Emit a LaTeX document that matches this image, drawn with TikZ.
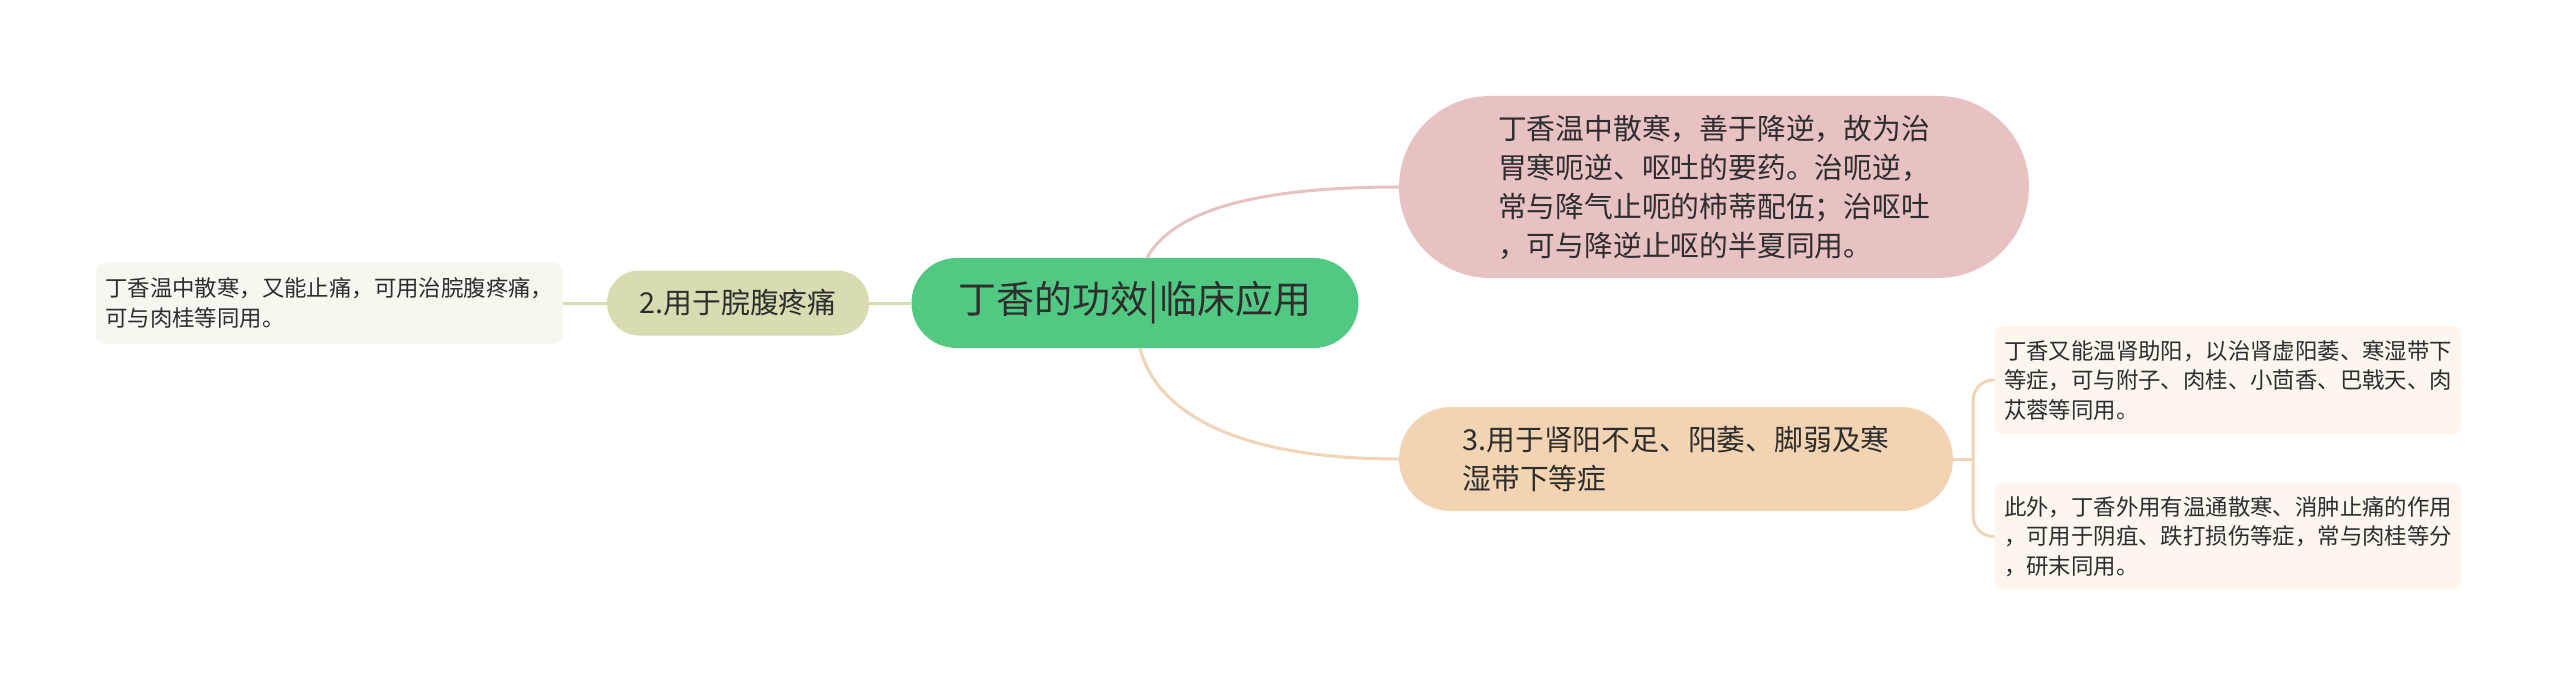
\documentclass[tikz,border=0pt]{standalone}
\usepackage{fontspec}
\newfontfamily\cjk{Noto Sans CJK SC}
\usepackage{tikz}
\usetikzlibrary{positioning}

\definecolor{rootgreen}{HTML}{52C983}
\definecolor{pinkfill}{HTML}{E8C2C2}
\definecolor{pinkline}{HTML}{E6C3C3}
\definecolor{peachfill}{HTML}{F2D4B2}
\definecolor{peachline}{HTML}{EFD4B6}
\definecolor{khakifill}{HTML}{D8DCB0}
\definecolor{leafgreen}{HTML}{F7F7EF}
\definecolor{leafpeach}{HTML}{FDF6EE}
\definecolor{txtgray}{HTML}{2E2E2E}

\tikzset{
    box/.style={align=left, text=txtgray, inner sep=0pt},
    rootbox/.style={box, fill=rootgreen, rounded corners=45pt, minimum width=447pt, minimum height=90pt, font=\cjk\fontsize{38}{46}\selectfont},
    subbox/.style={box, rounded corners=#1, font=\cjk\fontsize{28.8}{39}\selectfont},
    leafbox/.style={box, rounded corners=9pt, minimum width=467pt, font=\cjk\fontsize{22.4}{29.5}\selectfont},
    link/.style={line width=3pt}
}

\begin{document}
\begin{tikzpicture}[x=1pt, y=-1pt]
    \useasboundingbox (0,0) rectangle (2560,687);

    \node[rootbox] (root) at (1135,303) {丁香的功效|临床应用};

    \node[subbox=32pt, fill=khakifill, minimum width=262pt, minimum height=65pt, left=42pt of root] (yong2) {2.用于脘腹疼痛};
    \node[leafbox, fill=leafgreen, minimum height=81pt, left=44pt of yong2] (ye2) {丁香温中散寒，又能止痛，可用治脘腹疼痛，\\可与肉桂等同用。};

    \node[subbox=91pt, fill=pinkfill, minimum width=630pt, minimum height=182pt] (yong1) at (1714,187) {丁香温中散寒，善于降逆，故为治\\胃寒呃逆、呕吐的要药。治呃逆，\\常与降气止呃的柿蒂配伍；治呕吐\\，可与降逆止呕的半夏同用。};

    \node[subbox=52pt, fill=peachfill, minimum width=554pt, minimum height=104pt] (yong3) at (1676,459) {3.用于肾阳不足、阳萎、脚弱及寒\\湿带下等症};

    \node[leafbox, fill=leafpeach, minimum height=109pt] (ye3a) at (2228,380) {丁香又能温肾助阳，以治肾虚阳萎、寒湿带下\\等症，可与附子、肉桂、小茴香、巴戟天、肉\\苁蓉等同用。};
    \node[leafbox, fill=leafpeach, minimum height=107pt, below=48pt of ye3a] (ye3b) {此外，丁香外用有温通散寒、消肿止痛的作用\\，可用于阴疽、跌打损伤等症，常与肉桂等分\\，研末同用。};

    \draw[link, khakifill] (ye2.east) -- (yong2.west);
    \draw[link, khakifill] (yong2.east) -- (root.west);
    \draw[link, pinkline] ([xshift=12pt]root.north) .. controls +(25,-45) and +(-150,0) .. (yong1.west);
    \draw[link, peachline] ([xshift=5pt]root.south) .. controls +(15,60) and +(-170,0) .. (yong3.west);

    \draw[link, peachline] (yong3.east) -- ++(20,0) coordinate (fork);
    \draw[link, peachline, rounded corners=20pt] (fork) |- (ye3a.west);
    \draw[link, peachline, rounded corners=20pt] (fork) |- (ye3b.west);
\end{tikzpicture}
\end{document}
